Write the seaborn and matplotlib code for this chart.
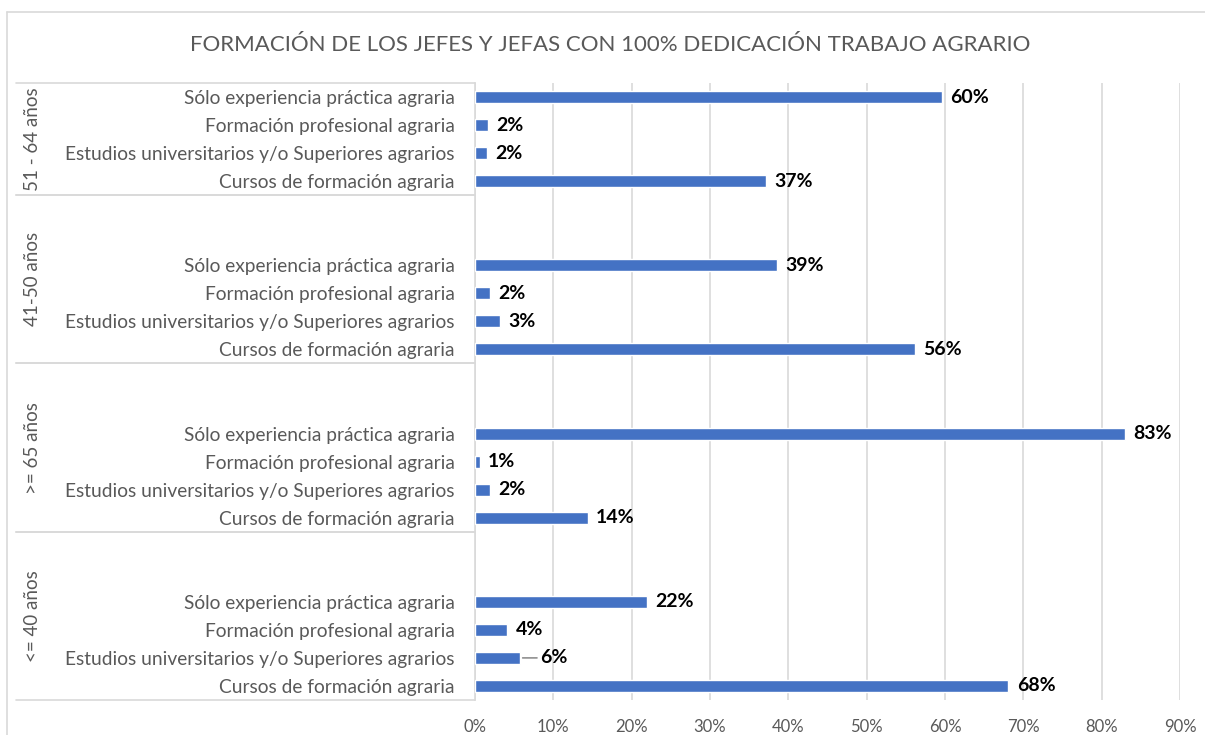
import numpy as np
import pandas as pd
import matplotlib
matplotlib.use("Agg")
import matplotlib.pyplot as plt
import matplotlib.transforms as mtransforms
from matplotlib.lines import Line2D
import seaborn as sns

# data (percent), groups listed top to bottom
groups = ["51 - 64 años", "41-50 años", ">= 65 años", "<= 40 años"]
categories = [
    "Sólo experiencia práctica agraria",
    "Formación profesional agraria",
    "Estudios universitarios y/o Superiores agrarios",
    "Cursos de formación agraria",
]
vals_51_64 = [59.6, 1.7, 1.5, 37.2]
vals_41_50 = [38.6, 1.9, 3.2, 56.2]
vals_65_mas = [83.0, 0.6, 1.9, 14.4]
vals_40_menos = [22.0, 4.1, 5.7, 68.1]
empty_slots = [0, 2, 2, 2]  # blank category rows above each group
xticks = [0, 10, 20, 30, 40, 50, 60, 70, 80, 90]

BLUE = "#4472C4"
GREY = "#595959"
LINE = "#d9d9d9"

sns.set_theme(style="white")
plt.rcParams["font.family"] = ["Lato", "DejaVu Sans"]

# build slot table
rows, order, ticklabels = [], [], []
group_spans = []
for g, vals, n_empty in zip(groups, [vals_51_64, vals_41_50, vals_65_mas, vals_40_menos], empty_slots):
    start = len(order)
    for k in range(n_empty):
        order.append(f"{g}_e{k}")
        ticklabels.append("")
    for c, v in zip(categories, vals):
        key = f"{g}_{c}"
        order.append(key)
        ticklabels.append(c)
        rows.append({"slot": key, "value": v})
    group_spans.append((g, start - 0.5, len(order) - 0.5))
df = pd.DataFrame(rows)

fig = plt.figure(figsize=(12.05, 7.35), dpi=100)
W, H = 1205, 735
ax = fig.add_axes([475 / W, 35 / H, (1180 - 475) / W, (700 - 83) / H])

sns.barplot(data=df, y="slot", x="value", order=order, orient="h",
            color=BLUE, width=0.43, saturation=1, ax=ax, zorder=3)

ax.set_xlim(0, 90)
ax.set_ylim(len(order) - 0.5, -0.5)
ax.set_xticks(xticks)
ax.set_xticklabels([f"{t}%" for t in xticks], color=GREY, fontsize=12)
ax.set_yticks(range(len(order)))
ax.set_yticklabels(ticklabels, color=GREY, fontsize=13.8)
ax.tick_params(axis="x", length=0, pad=14)
ax.tick_params(axis="y", length=0, pad=14.5)
ax.set_xlabel("")
ax.set_ylabel("")
ax.xaxis.grid(True, color=LINE, lw=1.2, zorder=0)
ax.yaxis.grid(False)
for s in ["top", "right", "bottom"]:
    ax.spines[s].set_visible(False)
ax.spines["left"].set_color(LINE)
ax.spines["left"].set_linewidth(1.2)

# value labels
for _, r in df.iterrows():
    y = order.index(r["slot"])
    v = r["value"]
    txt = f"{round(v):.0f}%"
    if v == vals_40_menos[2]:
        ax.annotate(txt, xy=(v, y), xytext=(15, 0), textcoords="offset points",
                    ha="left", va="center", fontsize=14, fontweight="bold", color="black",
                    arrowprops=dict(arrowstyle="-", color=GREY, lw=0.8, shrinkA=0, shrinkB=2))
    else:
        ax.annotate(txt, xy=(v, y), xytext=(6, 0), textcoords="offset points",
                    ha="left", va="center", fontsize=14, fontweight="bold", color="black")

# group separators and group labels
trans = mtransforms.blended_transform_factory(ax.transAxes, ax.transData)
x_left = (16 - 475) / (1180 - 475)
x_lab = (32 - 475) / (1180 - 475)
for g, y0, y1 in group_spans:
    for yb in (y0, y1):
        ax.plot([x_left, 0], [yb, yb], transform=trans, color=LINE, lw=1.2, clip_on=False)
    ax.text(x_lab, (y0 + y1) / 2, g, transform=trans, rotation=90, ha="center",
            va="center", color=GREY, fontsize=13.5)

# chart border
fig.add_artist(Line2D([7 / W, 7 / W], [0, 1 - 12 / H], color=LINE, lw=1.2))
fig.add_artist(Line2D([7 / W, 1], [1 - 12 / H, 1 - 12 / H], color=LINE, lw=1.2))

fig.text(610 / W, 1 - 45 / H, "FORMACIÓN DE LOS JEFES Y JEFAS CON 100% DEDICACIÓN TRABAJO AGRARIO",
         ha="center", va="center", color=GREY, fontsize=16)

fig.savefig("out.png", dpi=100, facecolor="white")
